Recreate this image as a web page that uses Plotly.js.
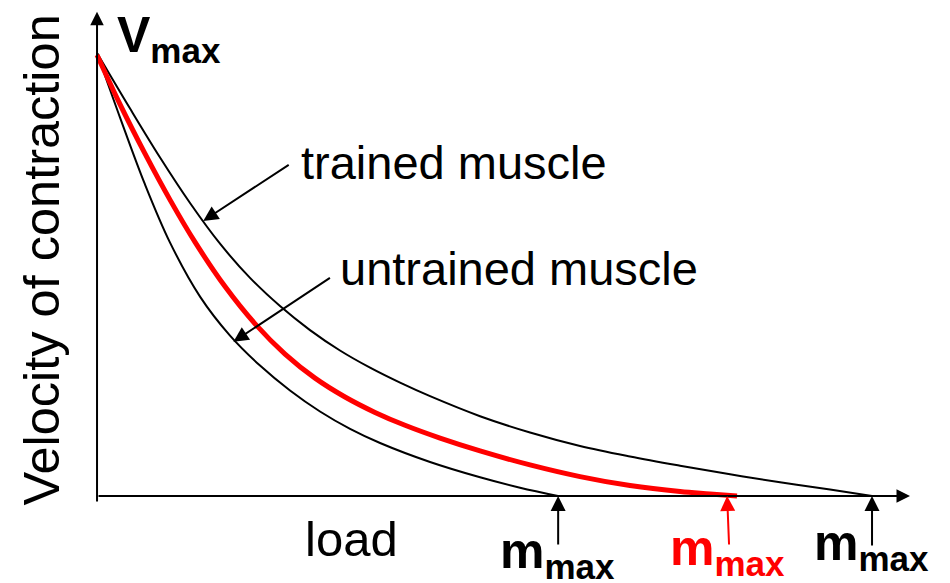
<!DOCTYPE html>
<html>
<head>
<meta charset="utf-8">
<script src="https://cdn.plot.ly/plotly-3.0.1.min.js"></script>
<style>html,body{margin:0;padding:0;background:#fff;}#chart{width:950px;height:583px;}</style>
</head>
<body>
<div id="chart"></div>
<script>
// Load (arbitrary units, trained m_max = 100) and velocity (Vmax = 100)
const trainedLoad = [0, 4.26, 8.13, 12.0, 15.87, 19.74, 23.61, 27.48, 31.35, 35.23, 39.10, 42.97, 49.42, 55.87, 62.32, 68.77, 75.23, 81.68, 88.13, 94.58, 100];
const trainedVel  = [100, 87.45, 76.41, 66.14, 56.95, 49.23, 42.87, 37.45, 32.84, 28.96, 25.58, 22.53, 18.01, 14.33, 11.29, 8.92, 6.84, 4.90, 3.09, 1.44, 0];

const redLoad = [0, 2.97, 6.19, 9.42, 12.65, 16.52, 20.39, 24.26, 28.13, 32.00, 35.87, 39.74, 44.26, 49.42, 55.87, 62.32, 68.77, 75.23, 79.10, 82.58];
const redVel  = [99.55, 88.40, 77.27, 66.84, 57.29, 47.27, 38.87, 32.03, 26.61, 22.35, 18.87, 15.96, 13.07, 10.18, 7.02, 4.38, 2.35, 0.99, 0.47, 0];

const untrainedLoad = [0, 2.97, 6.19, 9.42, 13.29, 17.16, 21.03, 24.90, 28.77, 32.65, 36.52, 42.97, 49.42, 54.58, 59.48];
const untrainedVel  = [100, 85.42, 70.32, 57.20, 45.01, 36.21, 29.44, 23.81, 19.07, 15.15, 11.96, 7.67, 4.22, 1.87, 0];

const mmaxUntrained = 59.5;
const mmaxRed = 81.3;
const mmaxTrained = 100;

const labels = {
  trained: 'trained muscle',
  untrained: 'untrained muscle',
  load: 'load',
  yTitle: 'Velocity of contraction',
  vmax: 'V<sub>max</sub>',
  mmax: 'm<sub>max</sub>'
};

const W = 950, H = 583;
const FONT = 'Liberation Sans, Arial, Helvetica, sans-serif';
const px = x => x / W;
const py = y => 1 - y / H;

const traces = [
  {x: trainedLoad, y: trainedVel, mode: 'lines', line: {color: '#000', width: 2, shape: 'spline', smoothing: 1}, hoverinfo: 'skip'},
  {x: untrainedLoad, y: untrainedVel, mode: 'lines', line: {color: '#000', width: 2, shape: 'spline', smoothing: 1}, hoverinfo: 'skip'},
  {x: redLoad, y: redVel, mode: 'lines', line: {color: '#ff0000', width: 5, shape: 'spline', smoothing: 1}, hoverinfo: 'skip'}
];

function arrowData(x, y, ax, ay, color, size) {
  return {x: x, y: y, ax: ax, ay: ay, xref: 'x', yref: 'y', axref: 'x', ayref: 'y',
    text: '', showarrow: true, arrowhead: 2, arrowsize: size || 1.4, arrowwidth: 2,
    arrowcolor: color || '#000', standoff: 0, startstandoff: 0};
}
function arrowPx(x, y, ax, ay, color) {
  return {x: x, y: y, ax: ax, ay: ay, xref: 'x', yref: 'y',
    text: '', showarrow: true, arrowhead: 2, arrowsize: 1.5, arrowwidth: 2,
    arrowcolor: color || '#000', standoff: 0, startstandoff: 0};
}
function txt(text, x, y, size, color, bold, extra) {
  return Object.assign({text: bold ? '<b>' + text + '</b>' : text, xref: 'paper', yref: 'paper',
    x: px(x), y: py(y), xanchor: 'left', yanchor: 'middle', showarrow: false,
    font: {family: FONT, size: size, color: color || '#000'}}, extra || {});
}

const annotations = [
  // axes
  arrowData(104.9, 0, 0, 0, '#000', 1.35),
  arrowData(0, 109.3, 0, -1.6, '#000', 1.35),
  // pointer arrows
  arrowPx(13.7, 62.1, 87, -57),
  arrowPx(17.6, 34.8, 98, -65),
  arrowPx(mmaxUntrained, 0, 0, 50),
  arrowPx(mmaxRed, 0, 2, 50, '#ff0000'),
  arrowPx(mmaxTrained, 0, 0, 51),
  // texts
  txt(labels.trained, 299, 162.5, 47),
  txt(labels.untrained, 338, 269, 47),
  txt(labels.load, 303, 539, 49),
  txt(labels.vmax, 115, 38, 50, '#000', true),
  txt(labels.mmax, 498, 554.5, 50, '#000', true),
  txt(labels.mmax, 668, 551.5, 50, '#ff0000', true),
  txt(labels.mmax, 812, 546.5, 50, '#000', true),
  txt(labels.yTitle, 40.5, 260, 50.5, '#000', false, {textangle: -90, xanchor: 'center'})
];

const layout = {
  width: W, height: H,
  margin: {l: 0, r: 0, t: 0, b: 0, pad: 0},
  paper_bgcolor: '#fff', plot_bgcolor: '#fff',
  showlegend: false,
  xaxis: {range: [-12.52, 110.06], visible: false, fixedrange: true},
  yaxis: {range: [-19.64, 111.96], visible: false, fixedrange: true},
  annotations: annotations
};

Plotly.newPlot('chart', traces, layout, {staticPlot: true, displayModeBar: false});
</script>
</body>
</html>
